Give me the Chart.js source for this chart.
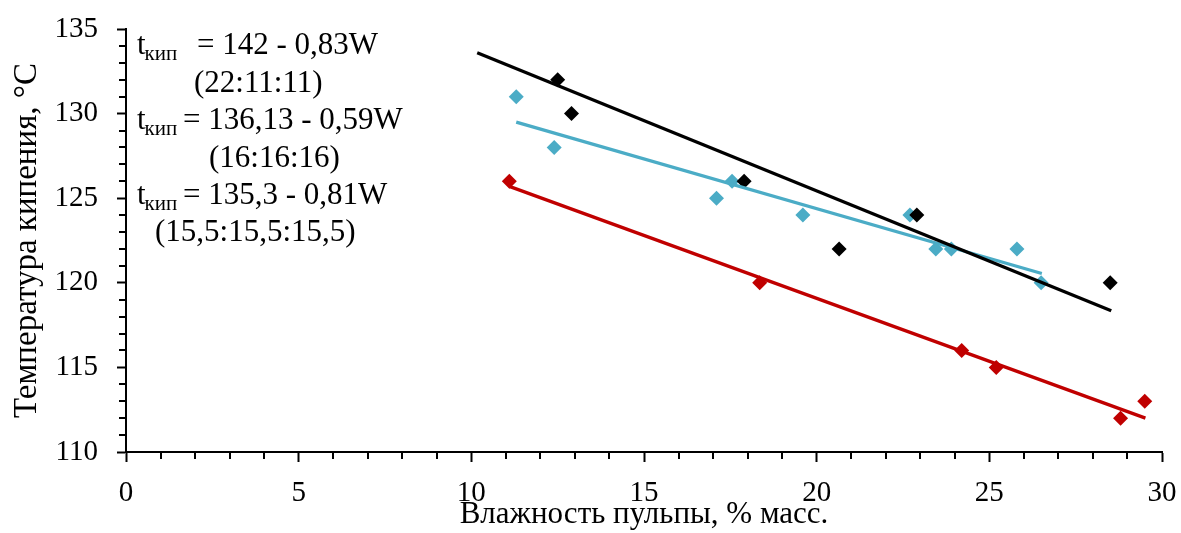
<!DOCTYPE html>
<html><head><meta charset="utf-8">
<script src="https://cdn.jsdelivr.net/npm/chart.js@4.4.1/dist/chart.umd.min.js"></script>
<style>html,body{margin:0;padding:0;background:#fff}canvas{display:block}</style>
</head><body>
<canvas id="c" width="1181" height="533"></canvas>
<script>
// ---- data ----
const blackX = [12.5, 12.9, 17.9, 20.65, 22.9, 28.5];
const blackY = [132, 130, 126, 122, 124, 120];
const cyanX  = [11.3, 12.4, 17.1, 17.55, 19.6, 22.7, 23.45, 23.9, 25.8, 26.5];
const cyanY  = [131, 128, 125, 126, 124, 124, 122, 122, 122, 120];
const redX   = [11.1, 18.35, 24.2, 25.2, 28.8, 29.5];
const redY   = [126, 120, 116, 115, 112, 113];
const blackTrendX = [10.17, 28.53];
const blackTrendY = [133.6, 118.35];
const cyanTrendX  = [11.3, 26.52];
const cyanTrendY  = [129.5, 120.55];
const redTrendX   = [11.1, 29.52];
const redTrendY   = [125.7, 112.0];
const xTickValues = [0, 5, 10, 15, 20, 25, 30];
const yTickValues = [110, 115, 120, 125, 130, 135];
const xTitle = 'Влажность пульпы, % масс.';
const yTitle = 'Температура кипения, °С';
const equations = [
  {main: 't', sub: 'кип', rest: '= 142 - 0,83W'},
  {main: '(22:11:11)'},
  {main: 't', sub: 'кип', rest: '= 136,13 - 0,59W'},
  {main: '(16:16:16)'},
  {main: 't', sub: 'кип', rest: '= 135,3 - 0,81W'},
  {main: '(15,5:15,5:15,5)'}
];

const FONT = "'Liberation Serif', 'Times New Roman', serif";
const BLACK = '#000000', CYAN = '#4BACC6', RED = '#C00000';
const pts = (xs, ys) => xs.map((x, i) => ({x, y: ys[i]}));

const markerDs = (xs, ys, c) => ({
  type: 'scatter', data: pts(xs, ys), order: 2,
  pointStyle: 'rectRot', pointRadius: 7.5, pointHoverRadius: 7.5,
  backgroundColor: c, borderColor: c, borderWidth: 0, showLine: false
});
const trendDs = (xs, ys, c, o) => ({
  type: 'scatter', data: pts(xs, ys), order: o, showLine: true,
  borderColor: c, borderWidth: 3.3, pointRadius: 0, pointHoverRadius: 0, fill: false
});

const minorTicks = {
  id: 'minorTicks',
  afterDraw(chart) {
    const {ctx, scales: {x, y}, chartArea} = chart;
    ctx.save();
    ctx.strokeStyle = '#000'; ctx.lineWidth = 2;
    ctx.beginPath();
    for (let v = x.min; v <= x.max; v++) {
      if (xTickValues.includes(v)) continue;
      const px = Math.round(x.getPixelForValue(v));
      ctx.moveTo(px, chartArea.bottom); ctx.lineTo(px, chartArea.bottom + 7);
    }
    for (let v = y.min; v <= y.max; v++) {
      if (yTickValues.includes(v)) continue;
      const py = Math.round(y.getPixelForValue(v));
      ctx.moveTo(chartArea.left - 7, py); ctx.lineTo(chartArea.left, py);
    }
    ctx.stroke();
    ctx.restore();
  }
};

const eqText = {
  id: 'eqText',
  afterDraw(chart) {
    const ctx = chart.ctx;
    const pos = [[137, 197, 54], [194, 0, 92], [137, 183, 129], [209, 0, 167], [137, 183, 204], [155, 0, 241]];
    ctx.save();
    ctx.fillStyle = '#000';
    ctx.textBaseline = 'alphabetic';
    ctx.textAlign = 'left';
    equations.forEach((e, i) => {
      const [x0, xr, base] = pos[i];
      ctx.font = '31px ' + FONT;
      ctx.fillText(e.main, x0, base);
      if (e.sub) {
        const w = ctx.measureText(e.main).width;
        ctx.font = '21px ' + FONT;
        ctx.fillText(e.sub, x0 + w - 1, base + 6);
        ctx.font = '31px ' + FONT;
        ctx.fillText(e.rest, xr, base);
      }
    });
    ctx.restore();
  }
};

new Chart(document.getElementById('c'), {
  type: 'scatter',
  data: {
    datasets: [
      trendDs(blackTrendX, blackTrendY, BLACK, 0),
      trendDs(cyanTrendX, cyanTrendY, CYAN, 1),
      trendDs(redTrendX, redTrendY, RED, 1),
      markerDs(blackX, blackY, BLACK),
      markerDs(cyanX, cyanY, CYAN),
      markerDs(redX, redY, RED)
    ]
  },
  options: {
    responsive: false, animation: false, devicePixelRatio: 1,
    layout: {padding: {left: 0, right: 19, top: 29, bottom: 0}},
    plugins: {legend: {display: false}, tooltip: {enabled: false}},
    scales: {
      x: {
        type: 'linear', min: 0, max: 30,
        afterFit: s => { s.height = 81; s.paddingLeft = 0; s.paddingRight = 0; },
        afterBuildTicks: s => { s.ticks = xTickValues.map(v => ({value: v})); },
        grid: {display: true, drawOnChartArea: false, drawTicks: true, tickLength: 10, tickColor: '#000', tickWidth: 2},
        border: {display: true, color: '#000', width: 2},
        ticks: {color: '#000', font: {family: FONT, size: 29}, padding: 14, maxRotation: 0},
        title: {display: true, text: xTitle, color: '#000', font: {family: FONT, size: 31}, padding: {top: 0, bottom: 0}}
      },
      y: {
        type: 'linear', min: 110, max: 135,
        afterFit: s => { s.width = 126; s.paddingTop = 0; s.paddingBottom = 0; },
        afterBuildTicks: s => { s.ticks = yTickValues.map(v => ({value: v})); },
        grid: {display: true, drawOnChartArea: false, drawTicks: true, tickLength: 9, tickColor: '#000', tickWidth: 2},
        border: {display: true, color: '#000', width: 2},
        ticks: {color: '#000', font: {family: FONT, size: 29}, padding: 19},
        title: {display: true, text: yTitle, color: '#000', font: {family: FONT, size: 33}, padding: {top: 8, bottom: 0}}
      }
    }
  },
  plugins: [minorTicks, eqText]
});
</script>
</body></html>
